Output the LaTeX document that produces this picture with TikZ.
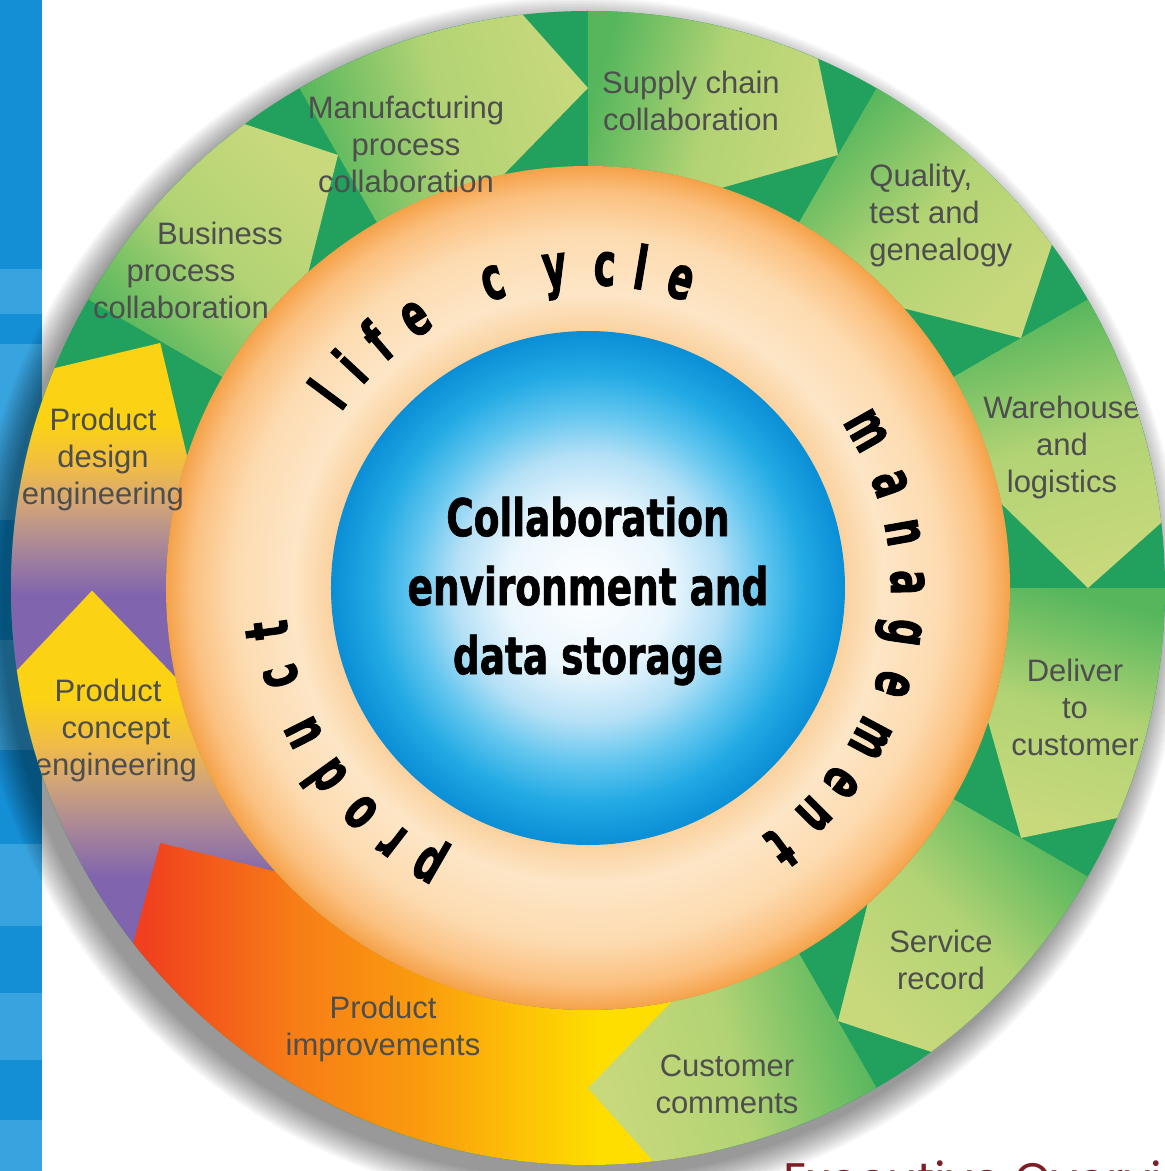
\documentclass[tikz,border=0pt]{standalone}
\usepackage{fontspec}
\newfontfamily\tagfont{Liberation Sans}
\newfontfamily\hubfont[FakeStretch=0.8,FakeBold=1.2]{DejaVu Sans Condensed}
\newfontfamily\ringfont[FakeStretch=0.68,FakeBold=1.5]{DejaVu Sans Condensed}
\newfontfamily\titlefont{Poppins}

\definecolor{stripblue}{HTML}{148ED4}
\definecolor{stripband}{HTML}{38A4DF}
\definecolor{dkgreen}{HTML}{21A05E}
\definecolor{lgtail}{HTML}{55B65C}
\definecolor{lgmid}{HTML}{B2D374}
\definecolor{lghead}{HTML}{C8D97C}
\definecolor{pyellow}{HTML}{FBD214}
\definecolor{porange}{HTML}{F0BB48}
\definecolor{ptan}{HTML}{D0A37A}
\definecolor{pmauve}{HTML}{A68599}
\definecolor{ppurple}{HTML}{8164AE}
\definecolor{ired}{HTML}{F0401E}
\definecolor{iorange}{HTML}{F77D16}
\definecolor{iamber}{HTML}{FA9C0E}
\definecolor{igold}{HTML}{FDC006}
\definecolor{iyellow}{HTML}{FEDD00}
\definecolor{ringa}{HTML}{FAD09C}
\definecolor{ringb}{HTML}{FDE6C6}
\definecolor{ringc}{HTML}{FDDBB0}
\definecolor{ringd}{HTML}{FBC07F}
\definecolor{ringe}{HTML}{F5A249}
\definecolor{huba}{HTML}{EAF6FD}
\definecolor{hubb}{HTML}{B4E0F6}
\definecolor{hubc}{HTML}{62C6EF}
\definecolor{hubd}{HTML}{22AAE4}
\definecolor{hube}{HTML}{0A8ED6}
\definecolor{labelgrey}{HTML}{4E4E4E}
\definecolor{titlered}{HTML}{7D1D25}

\pgfdeclareradialshading{ringshade}{\pgfpoint{0bp}{0bp}}{color(0bp)=(ringa); color(15bp)=(ringa); color(17.5bp)=(ringb); color(21bp)=(ringc); color(23.5bp)=(ringd); color(25bp)=(ringe); color(50bp)=(ringe)}
\pgfdeclareradialshading{hubshade}{\pgfpoint{0bp}{0bp}}{color(0bp)=(white); color(8bp)=(huba); color(13bp)=(hubb); color(17bp)=(hubc); color(21bp)=(hubd); color(25bp)=(hube); color(50bp)=(hube)}
\pgfdeclareverticalshading{designshade}{100bp}{color(0bp)=(ppurple); color(41bp)=(ppurple); color(47bp)=(pmauve); color(53bp)=(ptan); color(58bp)=(porange); color(64bp)=(pyellow); color(100bp)=(pyellow)}
\pgfdeclareverticalshading{conceptshade}{100bp}{color(0bp)=(ppurple); color(38bp)=(ppurple); color(44bp)=(pmauve); color(50bp)=(ptan); color(55bp)=(porange); color(61bp)=(pyellow); color(100bp)=(pyellow)}
\pgfdeclarehorizontalshading{improveshade}{100bp}{color(0bp)=(ired); color(26bp)=(ired); color(39bp)=(iorange); color(50bp)=(iamber); color(58bp)=(igold); color(65bp)=(iyellow); color(100bp)=(iyellow)}

\begin{document}
\begin{tikzpicture}[x=1pt, y=1pt,
        tagtext/.style={font=\tagfont\fontsize{31}{37}\selectfont, text=labelgrey, align=center, inner sep=0pt},
        hubtext/.style={font=\hubfont\bfseries\fontsize{52}{69}\selectfont, align=center, inner sep=0pt},
        ringletter/.style={font=\ringfont\bfseries\fontsize{60}{60}\selectfont, anchor=base, inner sep=0pt}]
        \useasboundingbox (-588,-583) rectangle (577,588);
        \clip (-588,-583) rectangle (577,588);
        \fill[white] (-588,-583) rectangle (577,588);

        % Blue strip
        \fill[stripblue] (-588,-583) rectangle (-546,588);
        \foreach \ya/\yb in {319/274, 244/68, -52/-162, -256/-338, -405/-472, -532/-583} {
            \fill[stripband] (-588,\yb) rectangle (-546,\ya);
        }

        % Shadow
        \foreach \k in {1,...,15} {
            \fill[black, opacity=0.03] (-10,-14) circle[radius=575pt+2pt*\k];
        }

        % Outer ring
        \fill[dkgreen] (0,0) circle[radius=577pt];

        % Product arrows
        \shade[shading=designshade] (192.5:577pt) arc[start angle=192.5, end angle=157.6, radius=577pt] -- (150.2:493pt) -- (161.8:422pt) arc[start angle=161.8, end angle=192.5, radius=422pt] -- cycle;
        \shade[shading=conceptshade] (222.5:577pt) arc[start angle=222.5, end angle=188.2, radius=577pt] -- (180.3:496pt) -- (192.2:422pt) arc[start angle=192.2, end angle=222.5, radius=422pt] -- cycle;
        \shade[shading=improveshade] (282.5:577pt) arc[start angle=282.5, end angle=218, radius=577pt] -- (210.8:498pt) -- (222.2:422pt) arc[start angle=222.2, end angle=282.5, radius=422pt] -- cycle;

        % Green arrows
        \foreach \ta/\tp in {150/120, 120/90, 90/60, 60/30, 30/0, 0/-30, -30/-60, -60/-90} {
            \pgfmathsetmacro\outc{\tp+6.5}
            \pgfmathsetmacro\innc{\tp+11.5}
            \pgfmathsetmacro\shang{(\ta+\tp)/2-180}
            \shade[top color=lghead, bottom color=lgtail, middle color=lgmid, shading angle=\shang]
                (\ta:577pt) arc[start angle=\ta, end angle=\outc, radius=577pt] -- (\tp:500pt) -- (\innc:422pt) arc[start angle=\innc, end angle=\ta, radius=422pt] -- cycle;
        }

        % Orange ring and hub
        \shade[shading=ringshade] (0,0) circle[radius=422pt];
        \shade[shading=hubshade] (0,0) circle[radius=257pt];
        \node[hubtext] (hub) at (0,-3) {Collaboration\\environment and\\data storage};

        % Ring letters
        \foreach \ch/\ang [count=\n] in {p/240, r/232.3, o/224.6, d/215.8, u/206.9, c/196, t/187.5,
                l/143.4, i/137, f/130.5, e/122.6, c/107.3, y/96, c/87, l/80.6, e/73.2,
                m/29.5, a/19, n/10, a/1, g/-8, e/-17.5, m/-28, e/-37.5, n/-45, t/-53.5} {
            \node[ringletter, rotate=\ang-90] (ring\n) at (\ang:303pt) {\ch};
        }

        % Labels
        \begin{scope}
            \clip (0,0) circle[radius=577pt];
            \node[tagtext] (business) at (-407,318) {\hspace*{78pt}Business\\process\hspace*{28pt}\\collaboration};
            \node[tagtext] (manufacturing) at (-182,444) {Manufacturing\\process\\collaboration};
            \node[tagtext] (supply) at (103,487) {Supply chain\\collaboration};
            \node[tagtext, align=left] (quality) at (353,373) {Quality,\\test and\\genealogy};
            \node[tagtext] (warehouse) at (474,141) {Warehouse\\and\\logistics};
            \node[tagtext] (deliver) at (487,-119) {Deliver\\to\\customer};
            \node[tagtext] (service) at (353,-372) {Service\\record};
            \node[tagtext] (comments) at (139,-496) {Customer\\comments};
            \node[tagtext] (improvements) at (-205,-441) {Product\\improvements};
            \node[tagtext] (concept) at (-472,-142) {Product\hspace*{16pt}\\concept\hspace*{16pt}\\engineering};
            \node[tagtext] (design) at (-485,129) {Product\\design\\engineering};
        \end{scope}

        % Title
        \node[font=\titlefont\fontsize{47}{47}\selectfont, text=titlered, anchor=base west, inner sep=0pt] (title) at (195,-608) {Executive Overvi};
    \end{tikzpicture}
\end{document}
